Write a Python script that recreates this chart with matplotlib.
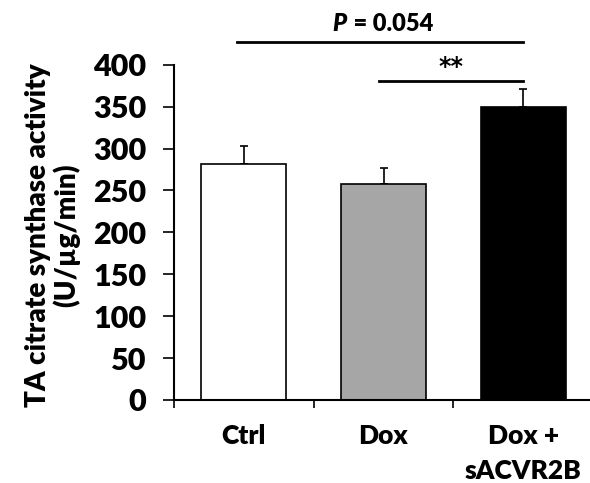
import matplotlib
matplotlib.use("Agg")
import matplotlib.pyplot as plt

# data
groups = ["Ctrl", "Dox", "Dox +\nsACVR2B"]
activity = [282, 258, 350]
sem = [21, 19, 21]
bar_colors = ["white", "#a6a6a6", "black"]
yticks = [0, 50, 100, 150, 200, 250, 300, 350, 400]

plt.rcParams["font.family"] = ["Lato", "DejaVu Sans"]
plt.rcParams["font.weight"] = "bold"

fig = plt.figure(figsize=(5.9, 4.83), dpi=100)
ax = fig.add_axes([0.295, 0.172, 0.710, 0.694])

x = list(range(len(groups)))
ax.bar(x, activity, width=0.61, color=bar_colors, edgecolor="black", linewidth=1.2, zorder=2)
ax.errorbar(x, activity, yerr=[[0] * len(sem), sem], fmt="none", ecolor="black",
            elinewidth=1.2, capsize=3, capthick=1.2, zorder=1)

ax.set_xlim(-0.5, 2.5)
ax.set_ylim(0, 400)
ax.set_yticks(yticks)
ax.set_yticklabels([str(v) for v in yticks], fontsize=22, fontweight="heavy")
ax.tick_params(axis="y", direction="out", length=8, width=1.2, pad=12)

ax.set_xticks([-0.5, 0.5, 1.5, 2.5])
ax.set_xticklabels([])
ax.tick_params(axis="x", which="major", direction="out", length=6, width=1.2)
ax.set_xticks(x, minor=True)
ax.set_xticklabels(groups, minor=True, fontsize=19, fontweight="heavy", linespacing=1.55)
ax.tick_params(axis="x", which="minor", length=0, pad=17)

for s in ["top", "right"]:
    ax.spines[s].set_visible(False)
for s in ["left", "bottom"]:
    ax.spines[s].set_linewidth(1.5)

ax.set_ylabel("TA citrate synthase activity\n(U/\u00b5g/min)", fontsize=20, fontweight="heavy",
              linespacing=1.05)
ax.yaxis.set_label_coords(-0.225, 0.49)

# significance brackets
ax.plot([-0.05, 2.0], [427, 427], color="black", lw=2, clip_on=False)
ax.text(0.735, 436, "P", ha="right", va="bottom", fontsize=17, fontweight="heavy",
        fontstyle="italic")
ax.text(0.745, 436, " = 0.054", ha="left", va="bottom", fontsize=17, fontweight="heavy")
ax.plot([0.97, 2.0], [381, 381], color="black", lw=2, clip_on=False)
ax.text(1.48, 383, "**", ha="center", va="bottom", fontsize=17, fontweight="bold",
        family="DejaVu Sans")

fig.savefig("out.png", dpi=100)
